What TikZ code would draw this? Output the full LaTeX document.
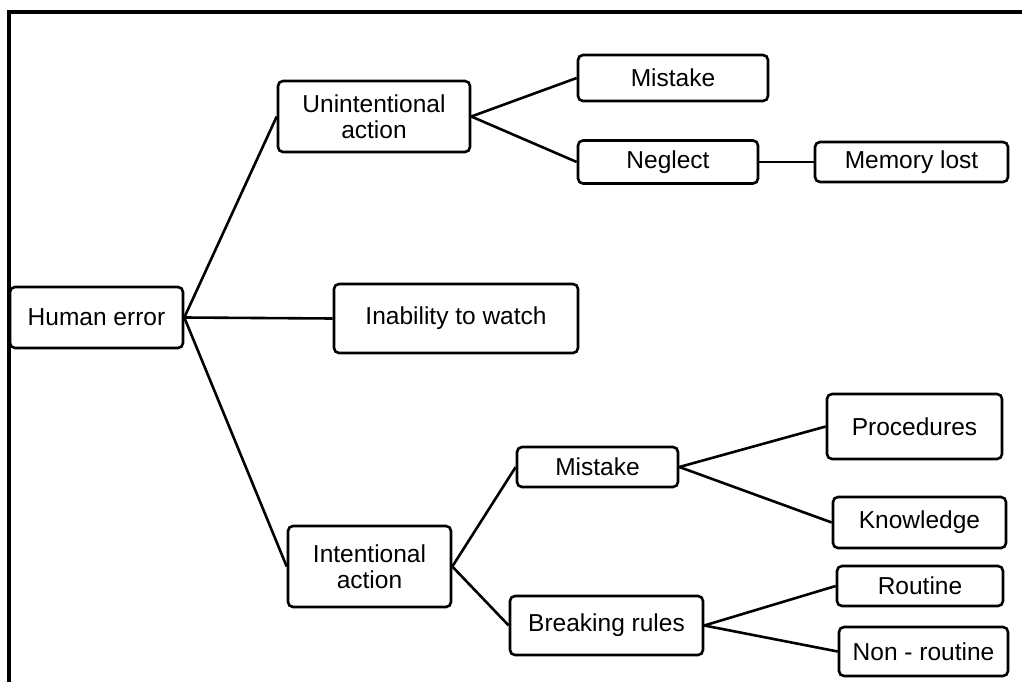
\documentclass[tikz,border=0pt]{standalone}
\usepackage{fontspec}
\setmainfont{Liberation Sans}
\begin{document}
\begin{tikzpicture}[x=1pt,y=-1pt,
  box/.style={draw=black, line width=2.6pt, rounded corners=5pt, inner sep=0pt,
    align=center, font=\fontsize{24.5}{25.5}\selectfont, text=black},
  link/.style={draw=black, line width=2.6pt}]
\useasboundingbox (0,0) rectangle (1022,682);
\draw[line width=3.5pt] (9,682) -- (9,12) -- (1022,12);
% nodes
\node[box, minimum width=173pt, minimum height=61pt] (he) at (96.5,317.5) {Human error};
\node[box, minimum width=192pt, minimum height=71pt] (ua) at (374,116.5) {Unintentional\\action};
\node[box, minimum width=244pt, minimum height=69pt] (iw) at (456,318.5) {Inability to watch};
\node[box, minimum width=163pt, minimum height=81pt] (ia) at (369.5,566.5) {Intentional\\action};
\node[box, minimum width=190pt, minimum height=46pt] (ma) at (673,78) {Mistake};
\node[box, minimum width=180pt, minimum height=43pt] (ng) at (668,162) {Neglect};
\node[box, minimum width=193pt, minimum height=40pt] (ml) at (911.5,162) {Memory lost};
\node[box, minimum width=161pt, minimum height=40pt] (mb) at (597.5,467) {Mistake};
\node[box, minimum width=193pt, minimum height=59pt] (br) at (606.5,625.5) {Breaking rules};
\node[box, minimum width=175pt, minimum height=65pt] (pr) at (914.5,426.5) {Procedures};
\node[box, minimum width=173pt, minimum height=51pt] (kn) at (919.5,522.5) {Knowledge};
\node[box, minimum width=166pt, minimum height=40pt] (rt) at (920,586) {Routine};
\node[box, minimum width=169pt, minimum height=49pt] (nr) at (923.5,651.5) {Non - routine};
% connectors
\draw[link] (he.east) -- (ua.west);
\draw[link] (he.east) -- (iw.west);
\draw[link] (he.east) -- (ia.west);
\draw[link] (ua.east) -- (ma.west);
\draw[link] (ua.east) -- (ng.west);
\draw[link] (ng.east) -- (ml.west);
\draw[link] (ia.east) -- (mb.west);
\draw[link] (ia.east) -- (br.west);
\draw[link] (mb.east) -- (pr.west);
\draw[link] (mb.east) -- (kn.west);
\draw[link] (br.east) -- (rt.west);
\draw[link] (br.east) -- (nr.west);
\end{tikzpicture}
\end{document}
